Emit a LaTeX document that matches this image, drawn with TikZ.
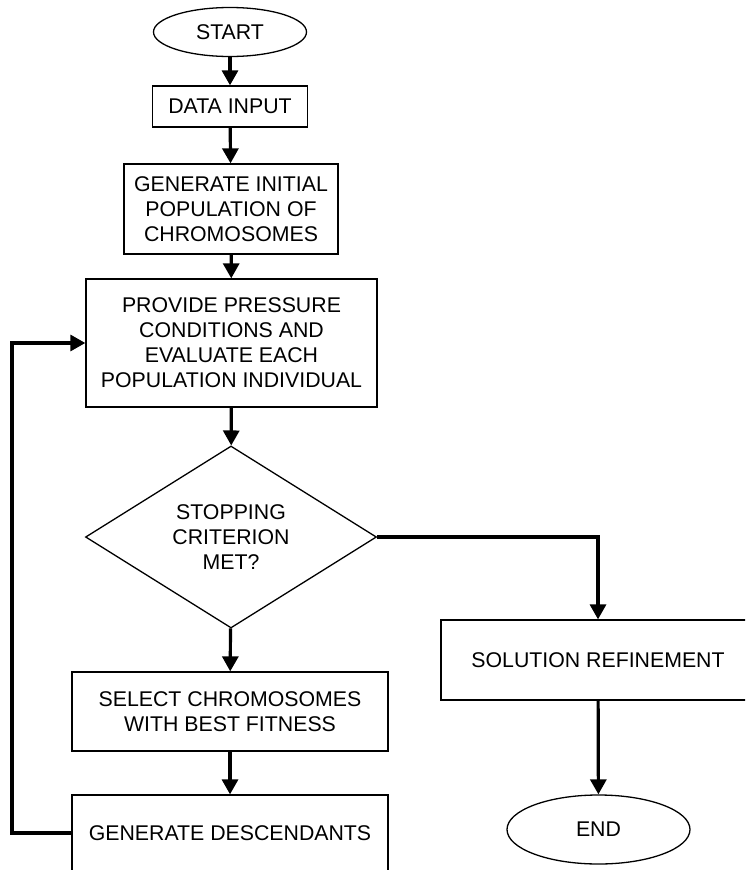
\documentclass[tikz,border=0pt]{standalone}
\usepackage{fontspec}
\setmainfont{Liberation Sans}
\usetikzlibrary{shapes.geometric,arrows.meta}
\begin{document}
\begin{tikzpicture}[x=1pt,y=-1pt,
  box/.style={draw,line width=1.3pt,rectangle,inner sep=0pt,align=center},
  term/.style={draw,line width=1.3pt,ellipse,inner sep=0pt},
  cond/.style={draw,line width=1.3pt,diamond,inner sep=0pt,align=center},
  arr/.style={line width=3.2pt,-{Triangle[width=16pt,length=15pt]}},
  font=\fontsize{21.3}{25}\selectfont]
\useasboundingbox (0,0) rectangle (745,870);
\clip (0,0) rectangle (745,870);
\node[term,minimum width=153pt,minimum height=49pt] (start) at (230,32) {START};
\node[box,minimum width=155pt,minimum height=41pt] (data) at (230,106.5) {DATA INPUT};
\node[box,minimum width=214pt,minimum height=90pt] (init) at (231,209) {GENERATE INITIAL\\POPULATION OF\\CHROMOSOMES};
\node[box,minimum width=291pt,minimum height=128pt] (eval) at (231.5,343) {PROVIDE PRESSURE\\CONDITIONS AND\\EVALUATE EACH\\POPULATION INDIVIDUAL};
\node[cond,minimum width=291pt,minimum height=177pt] (stop) at (231,537) {STOPPING\\CRITERION\\MET?};
\node[box,minimum width=316pt,minimum height=79pt] (select) at (230,711.5) {SELECT CHROMOSOMES\\WITH BEST FITNESS};
\node[box,minimum width=316pt,minimum height=76pt] (desc) at (230,833) {GENERATE DESCENDANTS};
\node[box,minimum width=314pt,minimum height=80pt] (refine) at (598,660) {SOLUTION REFINEMENT};
\node[term,minimum width=183pt,minimum height=69pt] (end) at (598.5,829.5) {END};
\coordinate (loop) at (12,833);
% main column
\draw[arr] (start) -- (data);
\draw[arr] (data) -- (init);
\draw[arr] (init) -- (eval);
\draw[arr] (eval) -- (stop);
\draw[arr] (stop) -- (select);
\draw[arr] (select) -- (desc);
% exit branch
\draw[arr] (stop.east) -| (refine.north);
\draw[arr] (refine) -- (end);
% feedback
\draw[arr] (desc.west) -- (loop) |- (eval.west);
\end{tikzpicture}
\end{document}
